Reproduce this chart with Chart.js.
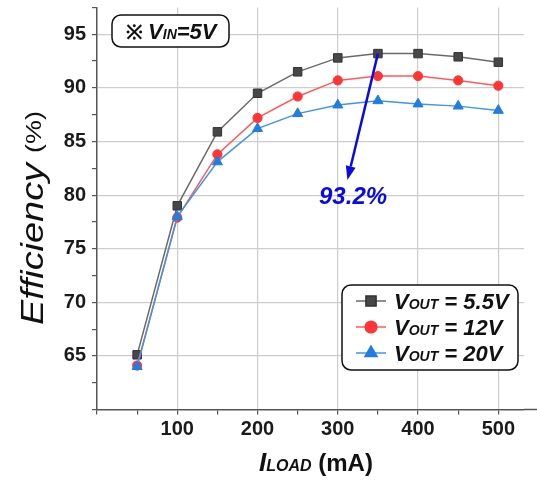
<!DOCTYPE html>
<html>
<head>
<meta charset="utf-8">
<script src="https://cdn.jsdelivr.net/npm/chart.js@4.4.1/dist/chart.umd.min.js"></script>
<style>
  html, body { margin: 0; padding: 0; background: #fff; }
  #wrap { width: 537px; height: 482px; }
</style>
</head>
<body>
<div id="wrap"><canvas id="eff" width="537" height="482"></canvas></div>
<script>
// load current (mA)
const loadCurrent = [50, 100, 150, 200, 250, 300, 350, 400, 450, 500];
// efficiency (%) per output voltage
const effVout55 = [65.1, 79.0, 85.9, 89.5, 91.5, 92.8, 93.2, 93.2, 92.9, 92.4];
const effVout12 = [64.1, 77.9, 83.8, 87.2, 89.2, 90.7, 91.1, 91.1, 90.7, 90.2];
const effVout20 = [64.0, 78.0, 83.1, 86.2, 87.6, 88.4, 88.8, 88.5, 88.3, 87.9];

const xTicks = [0, 50, 100, 150, 200, 250, 300, 350, 400, 450, 500];
const yTicks = [60, 62.5, 65, 67.5, 70, 72.5, 75, 77.5, 80, 82.5, 85, 87.5, 90, 92.5, 95, 97.5];

const seriesNames = ["5.5V", "12V", "20V"];
const peakLabel = "93.2%";
const peakPoint = { x: 350, y: 93.2 };
const arrowEnd = { x: 312, y: 81.4 };
const peakTextAt = { x: 319, y: 79.8 };

const FONT = "'Liberation Sans', Arial, sans-serif";

// draws a list of text runs one after another, returns total width
function runsWidth(ctx, runs) {
  let w = 0;
  runs.forEach(r => { ctx.font = r.font; w += ctx.measureText(r.text).width + (r.gap || 0); });
  return w;
}
function drawRuns(ctx, runs, x, y) {
  let cx = x;
  runs.forEach(r => {
    ctx.font = r.font;
    ctx.fillText(r.text, cx, y + (r.dy || 0));
    cx += ctx.measureText(r.text).width + (r.gap || 0);
  });
}
function fitText(ctx, text, x, y, width) {
  const m = ctx.measureText(text).width;
  ctx.save();
  ctx.translate(x, y);
  ctx.scale(width / m, 1);
  ctx.fillText(text, 0, 0);
  ctx.restore();
}
function roundBox(ctx, x, y, w, h, r) {
  ctx.beginPath();
  ctx.roundRect(x, y, w, h, r);
  ctx.fillStyle = "#fff";
  ctx.fill();
  ctx.lineWidth = 1.5;
  ctx.strokeStyle = "#111";
  ctx.stroke();
}
// keep the plot area where the layout padding puts it
function noLabelPadding(s) {
  s.paddingTop = 0;
  s.paddingBottom = 0;
  s.paddingLeft = 0;
  s.paddingRight = 0;
}

const extras = {
  id: "extras",
  afterDatasetsDraw(chart) {
    const ctx = chart.ctx;
    const xs = chart.scales.x, ys = chart.scales.y;
    const area = chart.chartArea;
    ctx.save();

    // axis line runs out to the canvas edge
    ctx.strokeStyle = "#555";
    ctx.lineWidth = 1.5;
    ctx.beginPath();
    ctx.moveTo(area.right, area.bottom);
    ctx.lineTo(chart.width, area.bottom);
    ctx.stroke();

    // peak arrow
    const x0 = xs.getPixelForValue(peakPoint.x), y0 = ys.getPixelForValue(peakPoint.y);
    const x1 = xs.getPixelForValue(arrowEnd.x), y1 = ys.getPixelForValue(arrowEnd.y);
    const ang = Math.atan2(y1 - y0, x1 - x0);
    const headLen = 14, headW = 5;
    const bx = x1 - headLen * Math.cos(ang), by = y1 - headLen * Math.sin(ang);
    ctx.strokeStyle = "#0a0ae6";
    ctx.fillStyle = "#0a0ae6";
    ctx.lineWidth = 2.5;
    ctx.beginPath();
    ctx.moveTo(x0, y0);
    ctx.lineTo(bx, by);
    ctx.stroke();
    ctx.beginPath();
    ctx.moveTo(x1, y1);
    ctx.lineTo(bx + headW * Math.sin(ang), by - headW * Math.cos(ang));
    ctx.lineTo(bx - headW * Math.sin(ang), by + headW * Math.cos(ang));
    ctx.closePath();
    ctx.fill();

    ctx.font = "italic bold 24px " + FONT;
    ctx.textAlign = "center";
    ctx.textBaseline = "middle";
    ctx.fillStyle = "#0a0ae6";
    ctx.fillText(peakLabel, xs.getPixelForValue(peakTextAt.x), ys.getPixelForValue(peakTextAt.y));

    ctx.textAlign = "left";
    ctx.textBaseline = "alphabetic";

    // input voltage note
    roundBox(ctx, 112, 15, 117, 32, 9);
    ctx.fillStyle = "#111";
    const vinRuns = [
      { text: "\u203B ", font: "bold 20px " + FONT },
      { text: "V", font: "italic bold 22px " + FONT },
      { text: "IN", font: "italic bold 14px " + FONT },
      { text: "=5V", font: "italic bold 22px " + FONT }
    ];
    const vw = runsWidth(ctx, vinRuns);
    drawRuns(ctx, vinRuns, 171 - vw / 2, 38.5);

    // legend
    roundBox(ctx, 342, 285, 176, 85, 9);
    const rows = [301, 327, 353];
    chart.data.datasets.forEach((ds, i) => {
      const y = rows[i];
      ctx.strokeStyle = ds.borderColor;
      ctx.lineWidth = 1.5;
      ctx.beginPath();
      ctx.moveTo(356, y);
      ctx.lineTo(386, y);
      ctx.stroke();
      ctx.fillStyle = ds.pointBackgroundColor;
      ctx.strokeStyle = ds.pointBorderColor;
      Chart.helpers.drawPoint(ctx, {
        pointStyle: ds.pointStyle, radius: ds.pointRadius + 1.2, rotation: 0, borderWidth: 1
      }, 371, y);
      ctx.fillStyle = "#111";
      drawRuns(ctx, [
        { text: "V", font: "italic bold 22px " + FONT },
        { text: "OUT", font: "italic bold 14px " + FONT },
        { text: " = " + seriesNames[i], font: "italic bold 22px " + FONT }
      ], 394, y + 8);
    });

    // x axis title
    ctx.fillStyle = "#111";
    const xt = [
      { text: "I", font: "italic bold 26px " + FONT },
      { text: "LOAD", font: "italic bold 16px " + FONT },
      { text: " (mA)", font: "bold 24px " + FONT }
    ];
    const xw = runsWidth(ctx, xt);
    drawRuns(ctx, xt, 316 - xw / 2, 471);

    // y axis title
    ctx.save();
    ctx.translate(43, 325);
    ctx.rotate(-Math.PI / 2);
    ctx.font = "italic 31px " + FONT;
    fitText(ctx, "Efficiency", 0, 0, 162);
    ctx.font = "22px " + FONT;
    fitText(ctx, "(%)", 172, -2, 42);
    ctx.restore();

    ctx.restore();
  }
};

new Chart(document.getElementById("eff"), {
  type: "line",
  data: {
    labels: loadCurrent,
    datasets: [
      {
        label: "VOUT = 5.5V",
        data: loadCurrent.map((x, i) => ({ x: x, y: effVout55[i] })),
        borderColor: "#6a6a6a",
        borderWidth: 1.5,
        pointStyle: "rect",
        pointRadius: 6,
        pointBackgroundColor: "#474747",
        pointBorderColor: "#333",
        pointBorderWidth: 1,
        order: 3
      },
      {
        label: "VOUT = 12V",
        data: loadCurrent.map((x, i) => ({ x: x, y: effVout12[i] })),
        borderColor: "#ff5a5a",
        borderWidth: 1.5,
        pointStyle: "circle",
        pointRadius: 4.6,
        pointBackgroundColor: "#ff3535",
        pointBorderColor: "#ff3535",
        pointBorderWidth: 1,
        order: 2
      },
      {
        label: "VOUT = 20V",
        data: loadCurrent.map((x, i) => ({ x: x, y: effVout20[i] })),
        borderColor: "#3f95e6",
        borderWidth: 1.5,
        pointStyle: "triangle",
        pointRadius: 5.8,
        pointBackgroundColor: "#1f7ee0",
        pointBorderColor: "#1f7ee0",
        pointBorderWidth: 1,
        order: 1
      }
    ]
  },
  options: {
    responsive: false,
    devicePixelRatio: 1,
    animation: false,
    events: [],
    layout: { padding: { top: 7.5, right: 13, left: 0, bottom: 0 } },
    plugins: { legend: { display: false }, tooltip: { enabled: false } },
    scales: {
      x: {
        type: "linear",
        min: 0,
        max: 532,
        afterBuildTicks: s => { s.ticks = xTicks.map(v => ({ value: v })); },
        afterFit: s => { s.height = 72.5; noLabelPadding(s); },
        border: { color: "#555", width: 1.5 },
        grid: {
          color: c => (c.tick && c.tick.value > 0 && c.tick.value % 100 === 0) ? "#cdcdcd" : "rgba(0,0,0,0)",
          tickColor: "#555",
          tickLength: 5,
          lineWidth: 1.2
        },
        ticks: {
          autoSkip: false,
          maxRotation: 0,
          padding: 3,
          color: "#1a1a1a",
          font: { family: FONT, size: 20, weight: "bold" },
          callback: v => (v > 0 && v % 100 === 0) ? String(v) : ""
        }
      },
      y: {
        min: 60,
        max: 97.5,
        afterBuildTicks: s => { s.ticks = yTicks.map(v => ({ value: v })); },
        afterFit: s => { s.width = 97; noLabelPadding(s); },
        border: { color: "#555", width: 1.5 },
        grid: {
          color: c => (c.tick && c.tick.value > 60 && c.tick.value % 5 === 0) ? "#cdcdcd" : "rgba(0,0,0,0)",
          tickColor: "#555",
          tickLength: 5,
          lineWidth: 1.2
        },
        ticks: {
          autoSkip: false,
          padding: 6,
          color: "#1a1a1a",
          font: { family: FONT, size: 20, weight: "bold" },
          callback: v => (v > 60 && v % 5 === 0) ? String(v) : ""
        }
      }
    }
  },
  plugins: [extras]
});
</script>
</body>
</html>
